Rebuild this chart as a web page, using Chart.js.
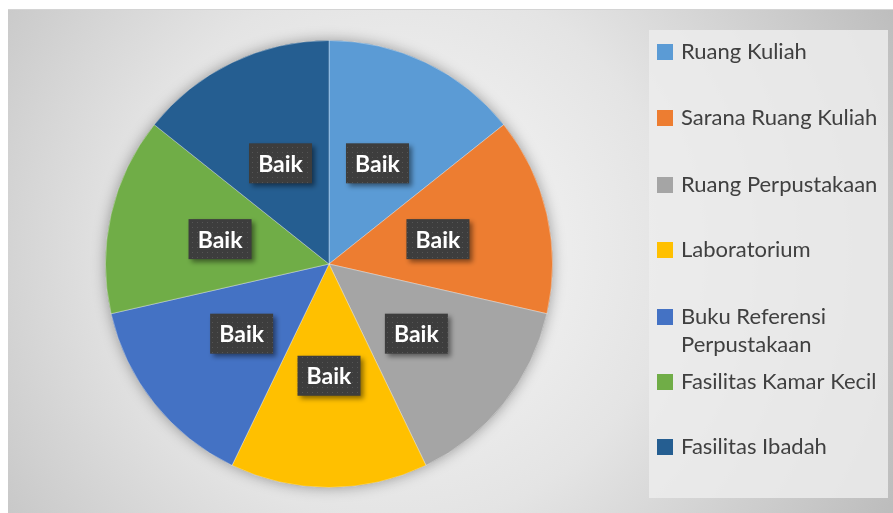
<!DOCTYPE html>
<html>
<head>
<meta charset="utf-8">
<script src="https://cdn.jsdelivr.net/npm/chart.js@4.4.1/dist/chart.umd.min.js"></script>
<style>
  html, body { margin: 0; padding: 0; background: #fff; }
  #wrap { width: 893px; height: 513px; position: relative; }
</style>
</head>
<body>
<div id="wrap"><canvas id="chart_ctx"></canvas></div>
<script>
// data
const categories = ['Ruang Kuliah', 'Sarana Ruang Kuliah', 'Ruang Perpustakaan', 'Laboratorium',
  'Buku Referensi Perpustakaan', 'Fasilitas Kamar Kecil', 'Fasilitas Ibadah'];
const values = [1, 1, 1, 1, 1, 1, 1];
const sliceLabels = ['Baik', 'Baik', 'Baik', 'Baik', 'Baik', 'Baik', 'Baik'];
const colors = ['#5B9BD5', '#ED7D31', '#A5A5A5', '#FFC000', '#4472C4', '#70AD47', '#255E91'];

// dotted pattern for label boxes
function makePattern(ctx) {
  const p = document.createElement('canvas');
  p.width = 5; p.height = 5;
  const pc = p.getContext('2d');
  pc.fillStyle = '#3d3d3d';
  pc.fillRect(0, 0, 5, 5);
  pc.fillStyle = '#555';
  pc.fillRect(2, 2, 1, 1);
  return ctx.createPattern(p, 'repeat');
}

// background + shadow under the pie
const bgPlugin = {
  id: 'bg',
  beforeDraw(chart) {
    const c = chart.ctx;
    c.save();
    c.fillStyle = '#fff';
    c.fillRect(0, 0, chart.width, chart.height);
    const g = c.createRadialGradient(400, 250, 40, 400, 250, 560);
    g.addColorStop(0, '#f6f6f6');
    g.addColorStop(0.45, '#e4e4e4');
    g.addColorStop(1, '#bcbcbc');
    c.fillStyle = g;
    c.fillRect(8, 10, chart.width - 8, chart.height - 10);
    c.fillStyle = '#d4d4d4';
    c.fillRect(8, 9, chart.width - 8, 1);
    // legend box
    c.fillStyle = 'rgba(236,236,236,0.85)';
    c.fillRect(649, 30, 239, 468);
    c.restore();
  },
  beforeDatasetsDraw(chart) {
    const arc = chart.getDatasetMeta(0).data[0];
    if (!arc) return;
    const c = chart.ctx;
    c.save();
    c.shadowColor = 'rgba(0,0,0,0.35)';
    c.shadowBlur = 14;
    c.beginPath();
    c.arc(arc.x, arc.y, arc.outerRadius, 0, Math.PI * 2);
    c.fillStyle = '#888';
    c.fill();
    c.restore();
  }
};

// "Baik" boxes at half radius
const labelPlugin = {
  id: 'sliceLabels',
  afterDatasetsDraw(chart) {
    const c = chart.ctx;
    const pat = makePattern(c);
    const meta = chart.getDatasetMeta(0);
    c.save();
    c.font = 'bold 23px Lato';
    c.textAlign = 'center';
    c.textBaseline = 'middle';
    meta.data.forEach((a, i) => {
      const mid = (a.startAngle + a.endAngle) / 2;
      const r = a.outerRadius * 0.5;
      const x = a.x + Math.cos(mid) * r;
      const y = a.y + Math.sin(mid) * r;
      const w = 63, h = 40;
      c.save();
      c.shadowColor = 'rgba(0,0,0,0.45)';
      c.shadowBlur = 5;
      c.shadowOffsetX = 3;
      c.shadowOffsetY = 3;
      c.fillStyle = pat;
      c.fillRect(x - w / 2, y - h / 2, w, h);
      c.restore();
      c.fillStyle = '#fff';
      c.fillText(sliceLabels[i], x, y + 1);
    });
    c.restore();
  }
};

// legend drawn on the right
const legendPlugin = {
  id: 'sideLegend',
  afterDraw(chart) {
    const c = chart.ctx;
    const ys = [52, 118, 185, 250, 317, 382, 447];
    c.save();
    c.font = '22px Lato';
    c.textBaseline = 'middle';
    categories.forEach((name, i) => {
      // wrap to width
      const words = name.split(' ');
      const lines = [];
      let cur = '';
      words.forEach(wd => {
        const t = cur ? cur + ' ' + wd : wd;
        if (c.measureText(t).width > 205 && cur) { lines.push(cur); cur = wd; } else cur = t;
      });
      lines.push(cur);
      const y = ys[i];
      c.fillStyle = colors[i];
      c.fillRect(657, y - 8, 16, 16);
      c.fillStyle = '#404040';
      lines.forEach((ln, k) => c.fillText(ln, 681, y + k * 28));
    });
    c.restore();
  }
};

var ctx = document.getElementById('chart_ctx');
var myChart = new Chart(ctx, {
  type: 'pie',
  data: {
    labels: categories,
    datasets: [{
      data: values,
      backgroundColor: colors,
      borderColor: 'rgba(255,255,255,0.35)',
      borderWidth: 1
    }]
  },
  options: {
    animation: { duration: 0 },
    responsive: true,
    maintainAspectRatio: false,
    events: [],
    layout: { padding: { left: 105, right: 340, top: 40, bottom: 25 } },
    plugins: {
      legend: { display: false },
      tooltip: { enabled: false }
    }
  },
  plugins: [bgPlugin, labelPlugin, legendPlugin]
});
</script>
</body>
</html>
